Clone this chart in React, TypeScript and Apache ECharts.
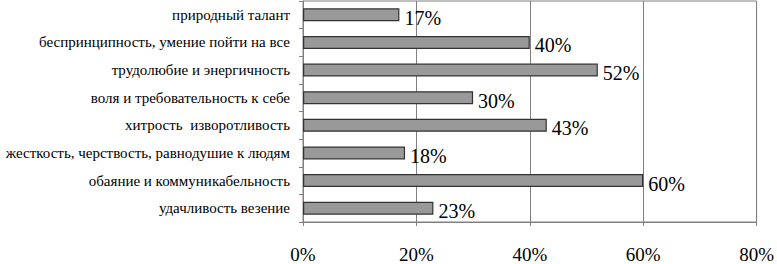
import React, { useEffect, useRef } from "react";
import * as echarts from "echarts";

const categories = [
  "природный талант",
  "беспринципность, умение пойти на все",
  "трудолюбие и энергичность",
  "воля и требовательность к себе",
  "хитрость  изворотливость",
  "жесткость, черствость, равнодушие к людям",
  "обаяние и коммуникабельность",
  "удачливость везение",
];
const values = [17, 40, 52, 30, 43, 18, 60, 23];
const xTicks = { min: 0, max: 80, interval: 20 };

const FONT = "Liberation Serif";

export default function App() {
  const ref = useRef<HTMLDivElement>(null);
  useEffect(() => {
    if (!ref.current) return;
    const chart = echarts.init(ref.current, undefined, { renderer: "svg" });
    chart.setOption({
      animation: false,
      backgroundColor: "#ffffff",
      textStyle: { fontFamily: FONT },
      grid: {
        left: 303,
        right: 16,
        top: 1,
        bottom: 34,
        show: true,
        borderColor: "#808080",
        borderWidth: 1,
      },
      xAxis: {
        type: "value",
        min: xTicks.min,
        max: xTicks.max,
        interval: xTicks.interval,
        axisLine: { show: true, lineStyle: { color: "#808080", width: 1 } },
        axisTick: { show: true, length: 4, lineStyle: { color: "#808080" } },
        splitLine: { show: true, lineStyle: { color: "#808080", width: 1 } },
        axisLabel: {
          formatter: "{value}%",
          color: "#000",
          fontFamily: FONT,
          fontSize: 19,
          margin: 23,
        },
      },
      yAxis: {
        type: "category",
        inverse: true,
        data: categories,
        axisLine: { show: true, lineStyle: { color: "#808080", width: 1 } },
        axisTick: { show: true, length: 4, lineStyle: { color: "#808080" } },
        axisLabel: {
          color: "#000",
          fontFamily: FONT,
          fontSize: 15,
          margin: 13,
        },
      },
      series: [
        {
          type: "bar",
          data: values,
          barWidth: 13,
          itemStyle: { color: "#999999", borderColor: "#333333", borderWidth: 1.2 },
          label: {
            show: true,
            position: "right",
            distance: 5,
            offset: [0, 3],
            formatter: "{c}%",
            color: "#000",
            fontFamily: FONT,
            fontSize: 20,
          },
        },
      ],
    });
    return () => chart.dispose();
  }, []);
  return (
    <div
      ref={ref}
      style={{ position: "fixed", left: 0, top: 0, width: 777, height: 264 }}
    />
  );
}
